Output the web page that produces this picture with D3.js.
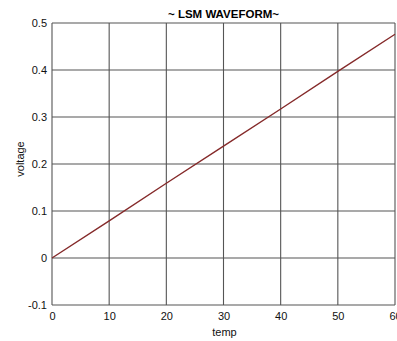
<!DOCTYPE html>
<html>
<head>
<meta charset="utf-8">
<script src="https://cdn.jsdelivr.net/npm/d3@7.9.0/dist/d3.min.js"></script>
<style>
  body { margin: 0; background: #fff; }
  svg { display: block; font-family: "Liberation Sans", Arial, sans-serif; }
  .tick text { font-size: 11px; fill: #111; }
</style>
</head>
<body>
<svg id="chart" width="397" height="341"></svg>
<script>
const temp = [0, 10, 20, 30, 40, 50, 60];
const voltage = [0, 0.079, 0.159, 0.238, 0.317, 0.397, 0.476];
const xTicks = [0, 10, 20, 30, 40, 50, 60];
const yTicks = [-0.1, 0, 0.1, 0.2, 0.3, 0.4, 0.5];

const svg = d3.select('#chart');
const mLeft = 52, mRight = 395, mTop = 23, mBottom = 305;

const x = d3.scaleLinear().domain([0, 60]).range([mLeft, mRight]);
const y = d3.scaleLinear().domain([-0.1, 0.5]).range([mBottom, mTop]);

// grid
svg.append('g')
  .selectAll('line')
  .data(xTicks)
  .join('line')
  .attr('x1', d => x(d)).attr('x2', d => x(d))
  .attr('y1', mTop).attr('y2', mBottom)
  .attr('stroke', '#555').attr('stroke-width', 1.1);

svg.append('g')
  .selectAll('line')
  .data(yTicks)
  .join('line')
  .attr('x1', mLeft).attr('x2', mRight)
  .attr('y1', d => y(d)).attr('y2', d => y(d))
  .attr('stroke', '#555').attr('stroke-width', 1.1);

// axes (labels only)
const xAxis = svg.append('g')
  .attr('transform', `translate(0,${mBottom})`)
  .call(d3.axisBottom(x).tickValues(xTicks).tickSize(0).tickPadding(7).tickFormat(d3.format('d')));
xAxis.select('.domain').remove();

const yAxis = svg.append('g')
  .attr('transform', `translate(${mLeft},0)`)
  .call(d3.axisLeft(y).tickValues(yTicks).tickSize(0).tickPadding(5)
    .tickFormat(d => d === 0 ? '0' : d3.format('.1f')(d).replace('\u2212', '-')));
yAxis.select('.domain').remove();

// line
const pts = temp.map((t, i) => [t, voltage[i]]);
svg.append('path')
  .datum(pts)
  .attr('fill', 'none')
  .attr('stroke', '#852a2a')
  .attr('stroke-width', 1.4)
  .attr('d', d3.line().x(d => x(d[0])).y(d => y(d[1])));

// title and labels
svg.append('text')
  .attr('x', (mLeft + mRight) / 2).attr('y', 18)
  .attr('text-anchor', 'middle')
  .attr('font-size', 11.5).attr('font-weight', 'bold').attr('fill', '#000')
  .text('~ LSM WAVEFORM~');

svg.append('text')
  .attr('x', (mLeft + mRight) / 2 + 1).attr('y', 336)
  .attr('text-anchor', 'middle')
  .attr('font-size', 11).attr('fill', '#111')
  .text('temp');

svg.append('text')
  .attr('transform', `translate(24,${(mTop + mBottom) / 2 - 5}) rotate(-90)`)
  .attr('text-anchor', 'middle')
  .attr('font-size', 11).attr('fill', '#111')
  .text('voltage');
</script>
</body>
</html>
